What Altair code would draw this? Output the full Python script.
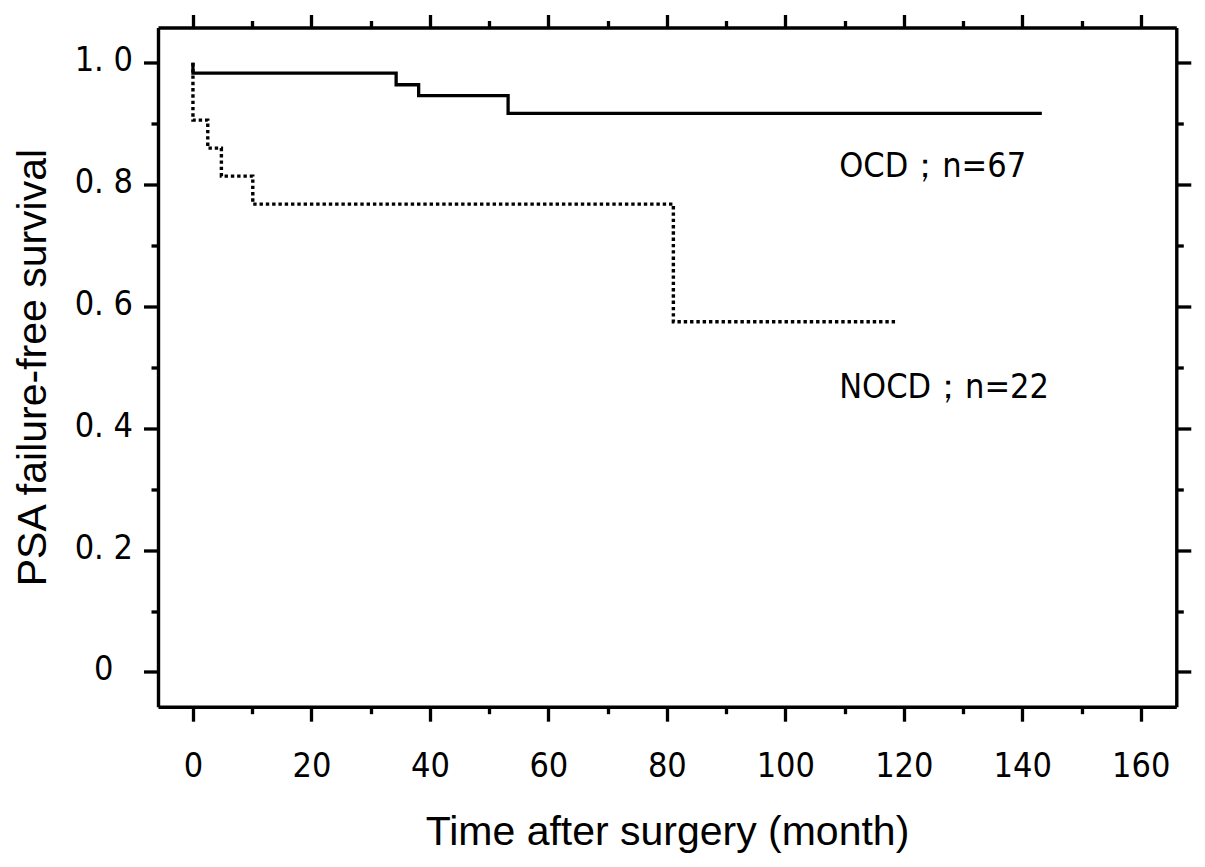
import altair as alt
import pandas as pd

# --- data (months, survival proportion) ---
ocd_time = [0, 0, 34.3, 38.1, 53.2, 143.3]
ocd_surv = [1.0, 0.983, 0.964, 0.946, 0.917, 0.917]
nocd_time = [0, 0, 2.5, 4.8, 10.1, 81.1, 118.8]
nocd_surv = [1.0, 0.906, 0.860, 0.814, 0.768, 0.575, 0.575]

label_text = ["OCD；n=67", "NOCD；n=22"]
label_time = [109.1, 109.1]
label_surv = [0.813, 0.450]

x_ticks = list(range(0, 170, 10))
y_ticks = [round(i / 10, 1) for i in range(0, 11)]

X_DOMAIN = [-5.9, 166]
Y_DOMAIN = [-0.057, 1.058]

NARROW = "Liberation Sans Narrow, DejaVu Sans Condensed, Liberation Sans, Arial, sans-serif"
ARIAL = "Liberation Sans, Arial, sans-serif"
LBL = 34

ocd = pd.DataFrame({"t": ocd_time, "s": ocd_surv})
nocd = pd.DataFrame({"t": nocd_time, "s": nocd_surv})
labels = pd.DataFrame({"t": label_time, "s": label_surv, "txt": label_text})

x_major = "datum.value % 20 === 0"
y_major = "round(datum.value * 10) % 2 === 0"

common = dict(
    domainColor="black", domainWidth=3.4, tickColor="black", tickWidth=3.3,
    grid=False,
)

x_bottom = alt.Axis(
    orient="bottom", values=x_ticks, title="Time after surgery (month)",
    tickSize={"condition": {"test": x_major, "value": 14.5}, "value": 7},
    labelExpr="datum.value % 20 === 0 ? datum.label : ''",
    labelFont=NARROW, labelFontSize=LBL, labelColor="black",
    labelBaseline="alphabetic", labelPadding=55.8, labelFlush=False,
    labelOverlap=False,
    titleFont=ARIAL, titleFontSize=41, titleFontWeight="normal", titleColor="black",
    titleBaseline="alphabetic", titleX=509, titleY=138, titleAlign="center",
    **common,
)
y_left = alt.Axis(
    orient="left", values=y_ticks, title="PSA failure-free survival",
    tickSize={"condition": {"test": y_major, "value": 14.5}, "value": 7},
    labelExpr="datum.value < 0.01 ? '0' : (round(datum.value * 10) % 2 === 0 ? replace(format(datum.value, '.1f'), '.', '. ') : '')",
    labelFont=NARROW, labelFontSize=LBL, labelColor="black",
    labelAlign="center", labelBaseline="middle", labelPadding=40.2,
    labelOffset=-2,
    labelFlush=False, labelOverlap=False,
    titleFont=ARIAL, titleFontSize=41, titleFontWeight="normal", titleColor="black",
    titleBaseline="alphabetic", titleAngle=-90, titleX=-113, titleY=339.6,
    titleAlign="center",
    **common,
)
x_top = alt.Axis(
    orient="top", values=x_ticks, title=None, labels=False,
    tickSize={"condition": {"test": x_major, "value": 13}, "value": 7},
    **common,
)
y_right = alt.Axis(
    orient="right", values=y_ticks, title=None, labels=False,
    tickSize={"condition": {"test": y_major, "value": 14.5}, "value": 7},
    **common,
)

xs = alt.Scale(domain=X_DOMAIN, nice=False, zero=False)
ys = alt.Scale(domain=Y_DOMAIN, nice=False, zero=False)

ocd_line = alt.Chart(ocd).mark_line(
    interpolate="step-after", color="black", strokeWidth=3.3, clip=True
).encode(
    x=alt.X("t:Q", scale=xs, axis=x_bottom),
    y=alt.Y("s:Q", scale=ys, axis=y_left),
)

nocd_line = alt.Chart(nocd).mark_line(
    interpolate="step-after", color="black", strokeWidth=3.4,
    strokeDash=[3.4, 2.9], clip=True
).encode(
    x=alt.X("t:Q", scale=xs, axis=x_top),
    y=alt.Y("s:Q", scale=ys, axis=y_right),
)

text = alt.Chart(labels).mark_text(
    align="left", baseline="alphabetic", font=NARROW, fontSize=LBL, color="black"
).encode(
    x=alt.X("t:Q", scale=xs, axis=None),
    y=alt.Y("s:Q", scale=ys, axis=None),
    text="txt:N",
)

chart = alt.layer(ocd_line, nocd_line, text).resolve_scale(
    x="independent", y="independent"
).properties(
    width=1018.3, height=679.2,
    autosize=alt.AutoSizeParams(type="none"),
    padding={"left": 150, "top": 19.5, "right": 20, "bottom": 152},
    background="white",
).configure_view(stroke=None)

chart.save("out.html", embed_options={"renderer": "svg", "actions": False})
